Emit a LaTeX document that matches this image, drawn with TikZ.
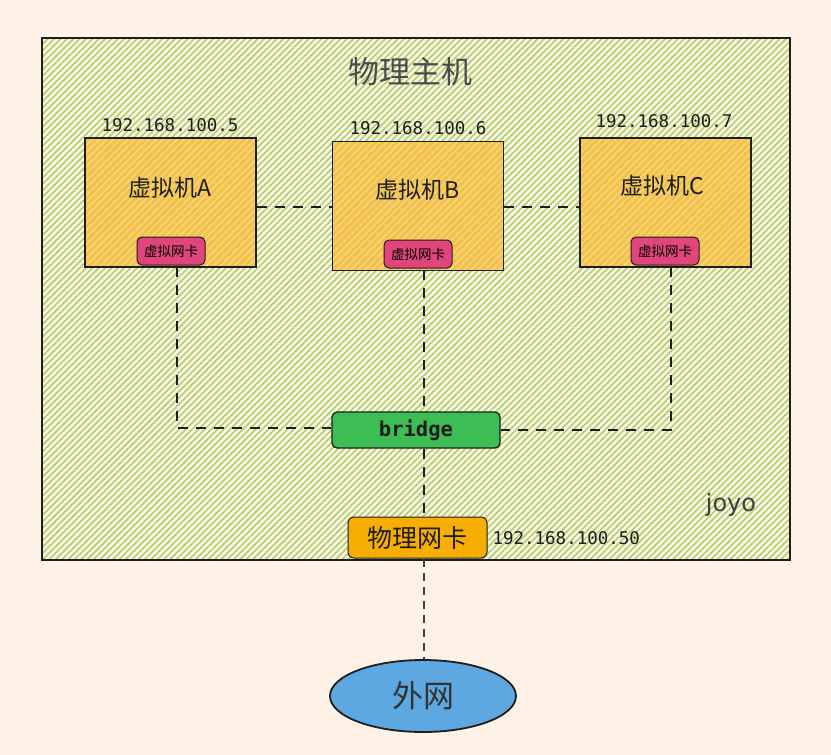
\documentclass[tikz,border=0pt]{standalone}
\usepackage{fontspec}
\newfontfamily\cjk{Noto Sans CJK SC}
\newfontfamily\mono{DejaVu Sans Mono}
\newfontfamily\hand{DejaVu Sans}
\usetikzlibrary{patterns.meta,shapes.geometric}
\definecolor{bgc}{HTML}{FEF3E6}
\definecolor{hgreen}{HTML}{A6D264}
\definecolor{vmfill}{HTML}{F3C24C}
\definecolor{vmhatch}{HTML}{F9DC8A}
\definecolor{nicpink}{HTML}{E0457B}
\definecolor{brgreen}{HTML}{3DBE55}
\definecolor{pnicor}{HTML}{F7AE00}
\definecolor{netblue}{HTML}{5DA8E0}
\definecolor{inkc}{HTML}{1E1E1E}
\tikzset{
  vmbox/.style={draw=inkc, line width=1.4pt, minimum width=171pt, minimum height=129pt,
    preaction={fill=vmfill}, pattern={Lines[angle=45,distance=5pt,line width=1pt]}, pattern color=vmhatch},
  nicbox/.style={draw=inkc, line width=1pt, fill=nicpink, rounded corners=5pt,
    minimum width=68pt, minimum height=28pt, inner sep=0pt, font=\cjk\fontsize{13.5}{15}\selectfont},
  vmlabel/.style={font=\cjk\fontsize{23}{26}\selectfont, text=inkc},
  iplabel/.style={font=\mono\fontsize{17.5}{20}\selectfont, text=inkc},
  link/.style={draw=inkc, line width=2.2pt, dash pattern=on 10pt off 8pt},
}
\begin{document}
\begin{tikzpicture}[x=1pt,y=-1pt]
\useasboundingbox (0,0) rectangle (831,755);
\fill[bgc] (0,0) rectangle (831,755);
% host
\fill[bgc] (42,38) rectangle (790,560);
\fill[pattern={Lines[angle=45,distance=4.5pt,line width=1.5pt]}, pattern color=hgreen] (42,38) rectangle (790,560);
\draw[inkc, line width=1.3pt] (42,38) rectangle (790,560);
\node[font=\cjk\fontsize{31}{34}\selectfont, text=black!70] (title) at (410,72) {物理主机};
\node[font=\hand\fontsize{24}{26}\selectfont, text=black!75] (sig) at (731,505) {joyo};
% VMs
\node[vmbox] (vma) at (170.5,202.5) {};
\node[vmbox] (vmb) at (418,206) {};
\node[vmbox] (vmc) at (665.5,202.5) {};
\node[vmlabel] (ta) at (170,188) {虚拟机A};
\node[vmlabel] (tb) at (418,190) {虚拟机B};
\node[vmlabel] (tc) at (662,186) {虚拟机C};
\node[iplabel] (ipa) at (170,125) {192.168.100.5};
\node[iplabel] (ipb) at (418,128) {192.168.100.6};
\node[iplabel] (ipc) at (664,121) {192.168.100.7};
\node[nicbox] (nica) at (171,251) {虚拟网卡};
\node[nicbox] (nicb) at (418,254) {虚拟网卡};
\node[nicbox] (nicc) at (665,251) {虚拟网卡};
% bridge
\node[draw=inkc, line width=1.3pt, fill=brgreen, rounded corners=5pt, minimum width=168pt, minimum height=36pt,
  font=\mono\bfseries\fontsize{20.5}{22}\selectfont, text=inkc] (br) at (416,430) {bridge};
% physical nic
\node[draw=inkc, line width=1pt, fill=pnicor, rounded corners=6pt, minimum width=139pt, minimum height=41pt,
  font=\cjk\fontsize{25}{28}\selectfont, text=inkc] (pnic) at (417.5,537.5) {物理网卡};
\node[iplabel, anchor=west] (ipp) at (489,538) {192.168.100.50};
% internet
\node[draw=inkc, line width=1.8pt, fill=netblue, ellipse, minimum width=186pt, minimum height=72pt,
  font=\cjk\fontsize{31}{34}\selectfont, text=black!80] (net) at (423,696) {外网};
% links
\draw[link] (vma.east |- 0,207) -- (vmb.west |- 0,207);
\draw[link] (vmb.east |- 0,207) -- (vmc.west |- 0,207);
\draw[link] (177,267) -- (177,428) -- (br.west |- 0,428);
\draw[link] (671,267) -- (671,430) -- (br.east |- 0,430);
\draw[link] (424,270) -- (br.north -| 424,0);
\draw[link] (br.south -| 424,0) -- (pnic.north -| 424,0);
\draw[draw=black!75, line width=1.5pt, dash pattern=on 8pt off 6pt] (pnic.south -| 424,0) -- (net.north -| 424,0);
\end{tikzpicture}
\end{document}
